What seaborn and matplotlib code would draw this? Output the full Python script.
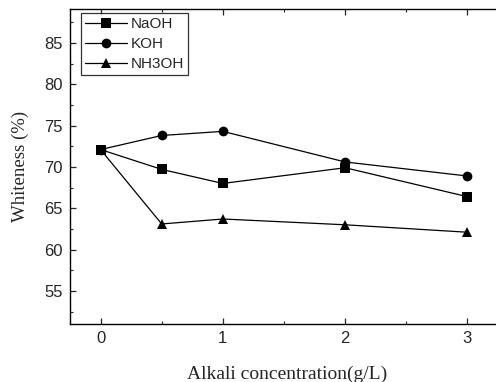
import matplotlib
matplotlib.use("Agg")
import matplotlib.pyplot as plt
import seaborn as sns
import pandas as pd
from matplotlib.ticker import MultipleLocator

concentration = [0, 0.5, 1, 2, 3]
naoh = [72.1, 69.7, 68.0, 69.9, 66.4]
koh = [72.1, 73.8, 74.3, 70.6, 68.9]
nh3oh = [72.1, 63.1, 63.7, 63.0, 62.1]
series_names = ["NaOH", "KOH", "NH3OH"]

rows = []
for name, vals in zip(series_names, [naoh, koh, nh3oh]):
    for c, v in zip(concentration, vals):
        rows.append({"conc": c, "white": v, "alkali": name})
df = pd.DataFrame(rows)

sns.set_style("ticks")
plt.rcParams["font.family"] = ["Liberation Sans", "DejaVu Sans"]

fig = plt.figure(figsize=(4.96, 3.82), dpi=100)
ax = fig.add_axes([70/496, 58/382, 434/496, 315/382])

palette = {"NaOH": "#000000", "KOH": "#333333", "NH3OH": "#111111"}
markers = {"NaOH": "s", "KOH": "o", "NH3OH": "^"}
sns.lineplot(data=df, x="conc", y="white", hue="alkali", style="alkali",
             markers=markers, dashes=False, palette=palette, ax=ax,
             linewidth=0.9, markersize=7, markeredgewidth=0,
             hue_order=series_names, style_order=series_names)
for line in ax.lines:
    line.set_color("#000000")

ax.set_xlim(-0.25, 3.3)
ax.set_ylim(51, 89.1)
ax.xaxis.set_major_locator(MultipleLocator(1))
ax.xaxis.set_minor_locator(MultipleLocator(0.5))
ax.yaxis.set_minor_locator(MultipleLocator(2.5))
ax.set_yticks([55, 60, 65, 70, 75, 80, 85])
ax.tick_params(which="major", direction="in", length=4, width=0.9, labelsize=12,
               top=True, right=False, pad=5)
ax.tick_params(which="minor", direction="in", length=2.5, width=0.8, top=True)
for s in ax.spines.values():
    s.set_linewidth(1.0)
    s.set_color("black")

ax.set_xlabel("Alkali concentration(g/L)", family=["Liberation Serif"], fontsize=14, labelpad=14)
ax.set_ylabel("Whiteness (%)", family=["Liberation Serif"], fontsize=13.5, labelpad=11)

leg = ax.legend(loc="upper left", frameon=True, fancybox=False, edgecolor="black",
                fontsize=11, handlelength=2.7, handletextpad=0.25, borderpad=0.3,
                labelspacing=0.38, bbox_to_anchor=(0.018, 0.998), borderaxespad=0.2)
leg.get_frame().set_linewidth(0.9)
for h in leg.legend_handles:
    h.set_color("black")

fig.savefig("out.png", dpi=100)
